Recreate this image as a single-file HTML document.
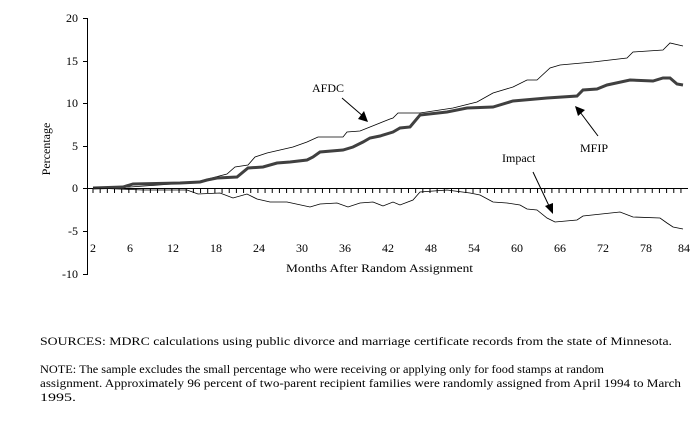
<!DOCTYPE html>
<html><head><meta charset="utf-8"><style>
html,body{margin:0;padding:0;background:#fff;}
svg{display:block;font-family:"Liberation Serif",serif;}
</style></head><body>
<svg width="695" height="422" viewBox="0 0 695 422" xmlns="http://www.w3.org/2000/svg">
<g stroke="#000" stroke-width="1" fill="none">
<line x1="87.5" y1="18" x2="87.5" y2="275"/>
<line x1="83" y1="18.5" x2="87" y2="18.5"/>
<line x1="83" y1="61.5" x2="87" y2="61.5"/>
<line x1="83" y1="103.5" x2="87" y2="103.5"/>
<line x1="83" y1="146.5" x2="87" y2="146.5"/>
<line x1="83" y1="188.5" x2="87" y2="188.5"/>
<line x1="83" y1="231.5" x2="87" y2="231.5"/>
<line x1="83" y1="274.5" x2="87" y2="274.5"/>
<line x1="87" y1="188.5" x2="688" y2="188.5"/>
</g>
<line x1="92.5" y1="190.5" x2="686" y2="190.5" stroke="#000" stroke-width="5" stroke-dasharray="1 6.17"/>
<g font-size="12" text-anchor="end" fill="#000">
<text x="78" y="22">20</text><text x="78" y="65">15</text><text x="78" y="107">10</text>
<text x="78" y="150">5</text><text x="78" y="192">0</text><text x="78" y="235">-5</text><text x="78" y="278">-10</text>
</g>
<text x="50" y="149" font-size="12" text-anchor="middle" transform="rotate(-90 50 149)">Percentage</text>
<g font-size="12" text-anchor="middle">
<text x="93" y="252">2</text><text x="130" y="252">6</text><text x="173" y="252">12</text>
<text x="216" y="252">18</text><text x="259" y="252">24</text><text x="302" y="252">30</text>
<text x="345" y="252">36</text><text x="388" y="252">42</text><text x="431" y="252">48</text>
<text x="474" y="252">54</text><text x="517" y="252">60</text><text x="560" y="252">66</text>
<text x="603" y="252">72</text><text x="646" y="252">78</text><text x="684" y="252">84</text>
</g>
<text x="286" y="272" font-size="12" textLength="187" lengthAdjust="spacingAndGlyphs">Months After Random Assignment</text>
<polyline fill="none" stroke="#000" stroke-width="0.8" points="93,188 130,187 187,183 200,181 227,174 235,167 248,165 255,157 267,153 280,150 293,147 307,142 318,137 343,137 347,132 360,131 390,119 393,118 398,113 420,113 453,108 477,102 493,93 513,87 527,80 537,80 550,68 560,65 593,62 627,58 633,52 663,50 670,43 683,46"/>
<polyline fill="none" stroke="#404040" stroke-width="3" points="93,188 123,187 133,184 180,183 200,182 207,180 217,178 237,177 248,168 263,167 277,163 290,162 307,160 313,157 320,152 343,150 353,147 363,142 370,138 380,136 393,132 400,128 410,127 420,115 447,112 467,108 493,107 513,101 547,98 577,96 583,90 597,89 607,85 630,80 653,81 663,78 670,78 677,84 683,85"/>
<polyline fill="none" stroke="#000" stroke-width="0.8" points="93,188 143,190 187,190 198,194 220,193 233,198 247,194 257,199 270,202 287,202 310,207 320,204 337,203 348,207 360,203 373,202 383,206 393,202 400,205 413,200 420,192 447,190 470,193 480,195 493,202 507,203 520,205 527,209 537,210 547,218 555,222 577,220 583,216 620,212 633,217 660,218 667,223 673,227 683,229"/>
<g font-size="12">
<text x="312" y="92">AFDC</text><text x="580" y="152">MFIP</text><text x="502" y="162">Impact</text>
</g>
<g stroke="#000" stroke-width="1">
<line x1="342" y1="98" x2="364" y2="117"/><line x1="598" y1="136" x2="580" y2="112"/><line x1="533" y1="172" x2="550" y2="208"/>
</g>
<g fill="#000">
<polygon points="368,122 358,119 364,111"/>
<polygon points="575,106 585,110 578,116"/>
<polygon points="553,214 545,206 553,203"/>
</g>
<g font-size="12">
<text x="40" y="345" textLength="632" lengthAdjust="spacingAndGlyphs">SOURCES:  MDRC calculations using public divorce and marriage certificate records from the state of Minnesota.</text>
<text x="40" y="373" textLength="564" lengthAdjust="spacingAndGlyphs">NOTE:  The sample excludes the small percentage who were receiving or applying only for food stamps at random</text>
<text x="40" y="387" textLength="641" lengthAdjust="spacingAndGlyphs">assignment.  Approximately 96 percent of two-parent recipient families were randomly assigned from April 1994 to March</text>
<text x="40" y="401" textLength="36" lengthAdjust="spacingAndGlyphs">1995.</text>
</g>
</svg>
</body></html>
